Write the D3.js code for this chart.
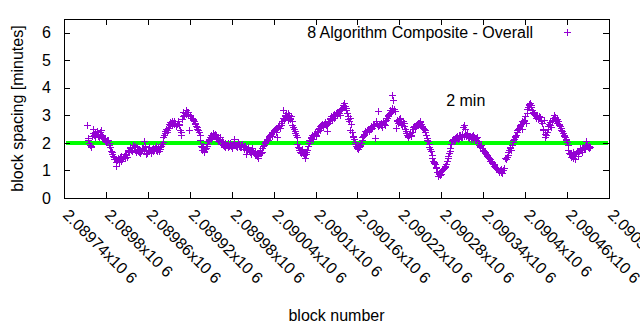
<!DOCTYPE html>
<html>
<head>
<meta charset="utf-8">
<script src="https://cdn.jsdelivr.net/npm/d3@7"></script>
<style>
  html, body { margin: 0; padding: 0; background: #fff; }
  svg { display: block; font-family: "Liberation Sans", Arial, sans-serif; }
</style>
</head>
<body>
<svg id="chart" width="640" height="330"></svg>
<script>
// ---- data ----
const seriesName = "8 Algorithm Composite - Overall";
const blockStart = 2089773;   // first plotted block
const blockStep = 1;          // one sample per block
const spacing = [
  2.64,2.12,2.17,2.00,1.92,1.88,1.86,2.26,2.52,2.36,2.28,2.40,2.21,2.34,2.44,2.26,2.30,2.20,2.38,2.32,
  2.46,2.30,2.22,2.18,2.14,2.08,2.16,2.04,2.06,2.12,2.11,2.00,1.94,1.84,1.72,1.66,1.60,1.54,1.48,1.42,
  1.40,1.32,1.18,1.38,1.46,1.30,1.34,1.50,1.52,1.36,1.40,1.46,1.48,1.54,1.44,1.60,1.56,1.50,1.66,1.74,
  1.72,1.80,1.86,1.76,1.80,1.70,1.92,1.84,1.76,1.88,1.68,1.78,1.84,1.72,1.78,1.66,1.62,1.70,1.74,1.82,
  1.80,1.74,2.08,1.90,1.70,1.60,1.62,1.72,1.84,1.70,1.76,1.64,1.66,1.78,1.82,1.70,1.74,1.80,1.88,1.76,
  1.70,1.78,1.84,1.72,1.78,1.86,1.90,1.96,2.02,2.20,2.30,2.36,2.42,2.50,2.38,2.48,2.56,2.70,2.64,2.76,
  2.72,2.80,2.66,2.74,2.80,2.68,2.74,2.62,2.62,2.70,2.78,2.66,2.70,2.47,2.30,2.40,2.88,2.96,3.12,3.00,
  3.10,3.04,3.18,3.12,3.05,3.14,2.48,3.02,2.98,2.90,2.92,2.84,2.86,2.80,2.74,2.68,2.62,2.58,2.52,2.46,
  2.40,2.30,2.10,1.90,1.76,1.84,1.88,1.72,1.66,1.78,1.82,1.90,1.95,2.06,2.12,2.16,2.20,2.14,2.28,2.24,
  2.36,2.30,2.24,2.32,2.30,2.18,2.16,2.22,2.08,2.12,2.20,2.02,1.96,2.06,2.04,1.94,1.90,1.86,1.98,1.92,
  1.92,1.98,1.84,1.90,2.00,1.94,1.88,1.82,1.80,1.96,2.16,2.04,1.94,1.88,1.86,1.92,2.02,1.96,1.90,1.86,
  1.84,1.92,1.96,1.86,1.78,1.88,1.90,1.80,1.58,1.76,1.86,1.82,1.72,1.68,1.60,1.74,1.80,1.70,1.66,1.62,
  1.70,1.60,1.56,1.52,1.45,1.58,1.62,1.68,1.74,1.64,1.66,1.80,1.90,1.94,1.98,2.02,2.06,2.10,2.16,2.12,
  2.22,2.26,2.30,2.34,2.26,2.40,2.38,2.46,2.44,2.50,2.40,2.54,2.22,2.58,2.60,2.66,2.56,2.64,2.72,2.78,
  3.20,2.90,2.86,2.96,3.02,3.08,2.94,2.84,3.10,3.00,2.88,2.92,2.98,2.80,2.66,2.58,2.50,2.44,2.36,2.28,
  2.20,1.96,1.86,1.80,1.74,1.68,1.62,1.70,1.78,1.64,1.55,1.60,1.45,1.58,1.66,1.76,1.90,2.00,2.12,2.06,
  2.18,2.22,2.30,2.16,2.24,2.32,2.36,2.26,2.28,2.40,2.42,2.50,2.56,2.48,2.62,2.66,2.70,2.60,2.58,2.68,
  2.72,2.76,2.64,2.70,2.43,2.74,2.78,2.86,2.90,2.96,2.82,2.92,3.00,3.06,2.92,2.98,3.10,3.14,3.04,3.12,
  3.16,3.08,3.02,3.18,3.22,3.26,3.30,3.36,3.45,3.34,3.28,3.20,3.10,2.96,2.86,2.78,2.47,2.90,2.70,2.40,
  2.26,2.20,2.14,2.04,1.96,1.88,1.84,1.80,1.78,1.86,1.90,1.94,1.98,2.10,2.20,2.26,2.34,2.30,2.42,2.38,
  2.40,2.46,2.50,2.44,2.46,2.54,2.60,2.52,2.56,2.64,2.70,2.62,2.17,2.74,2.78,2.68,3.17,2.60,2.64,2.70,
  2.72,2.66,2.58,2.76,2.80,2.70,2.66,2.78,2.84,2.90,2.96,3.00,3.04,3.10,3.20,3.14,3.75,3.28,3.57,3.22,
  3.24,3.16,2.54,2.80,2.84,2.74,2.76,2.86,2.90,2.78,2.70,2.66,2.80,2.72,2.62,2.52,2.44,2.36,2.30,2.24,
  2.22,2.30,2.36,2.26,2.28,2.40,2.50,2.58,2.62,2.54,2.56,2.66,2.70,2.74,2.66,2.72,2.80,2.76,2.68,2.62,
  2.58,2.54,2.50,2.46,2.40,2.30,2.17,2.12,2.06,1.96,1.86,1.78,1.70,1.56,1.44,1.36,1.30,1.26,1.22,1.14,
  1.10,0.96,0.79,0.88,0.92,0.84,0.86,0.98,1.00,1.04,1.06,1.10,1.14,1.18,1.22,1.34,1.46,1.54,1.62,1.72,
  1.80,1.96,2.06,2.12,2.14,2.08,2.10,2.18,2.20,2.24,2.26,2.16,2.18,2.28,2.30,2.20,2.22,2.34,2.58,2.26,
  2.66,2.50,2.24,2.30,2.36,2.22,2.18,2.26,2.26,2.20,2.14,2.24,2.28,2.16,2.20,2.12,2.10,2.18,2.22,2.08,
  2.00,1.94,1.88,1.84,1.92,1.80,1.76,1.72,1.70,1.66,1.62,1.58,1.56,1.52,1.48,1.44,1.40,1.36,1.34,1.30,
  1.28,1.24,1.22,1.18,1.14,1.08,1.10,1.04,1.02,0.98,0.96,1.02,1.06,0.94,0.92,1.00,1.00,1.08,1.46,1.40,
  1.42,1.50,1.56,1.66,1.74,1.80,1.86,1.76,1.92,2.04,2.12,2.16,2.20,2.24,2.28,2.38,2.46,2.52,2.56,2.62,
  2.66,2.70,2.50,2.78,2.76,2.80,2.84,2.96,2.72,3.08,3.22,3.30,3.40,3.36,3.46,3.38,3.30,3.20,3.14,3.10,
  3.06,3.00,2.92,2.98,3.00,2.90,2.86,2.96,2.94,2.84,2.78,2.74,2.50,2.46,2.82,2.34,2.20,2.28,2.40,2.52,
  2.62,2.70,2.76,2.66,2.58,2.78,2.84,2.92,3.00,2.94,2.88,2.82,2.74,2.86,2.80,2.70,2.64,2.60,2.56,2.48,
  2.42,2.36,2.30,2.26,2.22,2.16,2.11,2.02,1.92,1.76,1.64,1.58,1.50,1.62,1.56,1.46,1.68,1.54,1.40,1.60,
  1.62,1.70,1.52,1.66,1.72,1.76,1.80,1.74,1.66,1.82,1.86,1.80,1.78,1.88,2.08,1.92,1.90,1.84,1.82,1.88,
  1.86
];
const targetSpacing = 2;             // green reference line (minutes)
const targetLabel = "2 min";
const targetLabelPos = [2090287, 3.55];
const xDomain = [2089740, 2090520];
const yDomain = [0, 6.5];
const xTickValues = [2089740,2089800,2089860,2089920,2089980,2090040,2090100,
                     2090160,2090220,2090280,2090340,2090400,2090460,2090520];
const xTickLabels = ["2.08974x10 6","2.0898x10 6","2.08986x10 6","2.08992x10 6",
                     "2.08998x10 6","2.09004x10 6","2.0901x10 6","2.09016x10 6",
                     "2.09022x10 6","2.09028x10 6","2.09034x10 6","2.0904x10 6",
                     "2.09046x10 6","2.09052x10 6"];
const yTickValues = [0,1,2,3,4,5,6];
const yTickLabels = ["0","1","2","3","4","5","6"];
const xTitle = "block number";
const yTitle = "block spacing [minutes]";

// ---- layout ----
const M = {left: 64, right: 609, top: 19, bottom: 198};
const pointColor = "#9400d3";
const lineColor = "#00ff00";
const fontSize = 16;

const svg = d3.select("#chart");
const x = d3.scaleLinear().domain(xDomain).range([M.left, M.right]);
const y = d3.scaleLinear().domain(yDomain).range([M.bottom, M.top]);

const data = spacing.map((v, i) => ({b: blockStart + i * blockStep, v}));

// reference line
svg.append("line")
  .attr("x1", x(xDomain[0]) + 2).attr("x2", x(xDomain[1]) - 1)
  .attr("y1", y(targetSpacing)).attr("y2", y(targetSpacing))
  .attr("stroke", lineColor).attr("stroke-width", 4);

// points (plus markers)
const plus = (cx, cy, r) => {
  const px = Math.round(cx) + 0.5, py = Math.round(cy) + 0.5;
  return `M${px - r},${py}H${px + r}M${px},${py - r}V${py + r}`;
};
svg.append("g")
  .selectAll("path").data(data).join("path")
  .attr("d", d => plus(x(d.b), y(d.v), 3.5))
  .attr("stroke", pointColor).attr("stroke-width", 1)
  .attr("fill", "none").attr("shape-rendering", "crispEdges");

// axes (ticks inward, mirrored)
const tl = 6;
const axB = d3.axisBottom(x).tickValues(xTickValues).tickSizeInner(-tl).tickSizeOuter(0).tickFormat("");
const axT = d3.axisTop(x).tickValues(xTickValues).tickSizeInner(-tl).tickSizeOuter(0).tickFormat("");
const axL = d3.axisLeft(y).tickValues(yTickValues).tickSizeInner(-tl).tickSizeOuter(0).tickFormat("");
const axR = d3.axisRight(y).tickValues(yTickValues).tickSizeInner(-tl).tickSizeOuter(0).tickFormat("");
[[axB, `translate(0,${M.bottom})`], [axT, `translate(0,${M.top})`],
 [axL, `translate(${M.left},0)`], [axR, `translate(${M.right},0)`]].forEach(([ax, tr]) => {
  const g = svg.append("g").attr("transform", tr).call(ax);
  g.select(".domain").remove();
  g.selectAll("line").attr("stroke", "#000").attr("shape-rendering", "crispEdges");
});

// border
svg.append("rect")
  .attr("x", M.left + 0.5).attr("y", M.top + 0.5)
  .attr("width", M.right - M.left).attr("height", M.bottom - M.top)
  .attr("fill", "none").attr("stroke", "#000").attr("stroke-width", 1)
  .attr("shape-rendering", "crispEdges");

// y tick labels
svg.append("g").selectAll("text").data(yTickValues).join("text")
  .attr("x", M.left - 13).attr("y", d => y(d))
  .attr("dy", "0.35em").attr("text-anchor", "end")
  .attr("font-size", fontSize).attr("fill", "#000")
  .text((d, i) => yTickLabels[i]);

// x tick labels rotated
svg.append("g").selectAll("text").data(xTickValues).join("text")
  .attr("transform", d => `translate(${x(d) - 2},${M.bottom + 18}) rotate(45)`)
  .attr("text-anchor", "start")
  .attr("font-size", fontSize).attr("fill", "#000")
  .text((d, i) => xTickLabels[i]);

// axis titles
svg.append("text")
  .attr("x", (M.left + M.right) / 2).attr("y", 321)
  .attr("text-anchor", "middle").attr("font-size", fontSize).text(xTitle);
svg.append("text")
  .attr("transform", `translate(23,${(M.top + M.bottom) / 2}) rotate(-90)`)
  .attr("text-anchor", "middle").attr("font-size", fontSize).text(yTitle);

// legend
svg.append("text")
  .attr("x", 533).attr("y", 32).attr("dy", "0.35em")
  .attr("text-anchor", "end").attr("font-size", fontSize).text(seriesName);
svg.append("path")
  .attr("d", plus(567, 32, 3.5))
  .attr("stroke", pointColor).attr("stroke-width", 1)
  .attr("fill", "none").attr("shape-rendering", "crispEdges");

// "2 min" label
svg.append("text")
  .attr("x", x(targetLabelPos[0])).attr("y", y(targetLabelPos[1]))
  .attr("dy", "0.35em").attr("font-size", fontSize).text(targetLabel);
</script>
</body>
</html>
